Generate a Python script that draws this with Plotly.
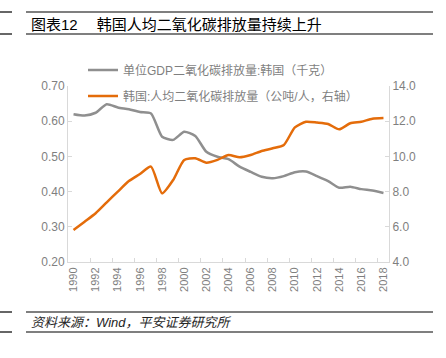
import plotly.graph_objects as go

years = [str(y) for y in range(1990, 2019)]
co2_per_gdp = [0.620, 0.616, 0.624, 0.648, 0.639, 0.634, 0.626, 0.622, 0.556, 0.547,
               0.570, 0.558, 0.513, 0.499, 0.492, 0.471, 0.456, 0.442, 0.438, 0.444,
               0.455, 0.457, 0.444, 0.430, 0.411, 0.414, 0.407, 0.403, 0.396]
co2_per_capita = [5.82, 6.29, 6.77, 7.39, 8.00, 8.60, 9.00, 9.42, 7.90, 8.66,
                  9.80, 9.89, 9.64, 9.80, 10.08, 9.95, 10.08, 10.31, 10.46, 10.65,
                  11.65, 11.97, 11.92, 11.84, 11.54, 11.88, 11.97, 12.14, 12.18]
name_gdp = "单位GDP二氧化碳排放量:韩国（千克）"
name_cap = "韩国:人均二氧化碳排放量（公吨/人，右轴）"
title_text = "图表12　 韩国人均二氧化碳排放量持续上升"
source_text = "资料来源：Wind，平安证券研究所"

W, H = 446, 358
L, R, T, B = 68, 389, 86, 262
FONT = "Liberation Sans, Noto Sans CJK SC, sans-serif"


def px_x(px):
    return (px - L) / (R - L)


def px_y(py):
    return (B - py) / (B - T)


fig = go.Figure()
fig.add_trace(go.Scatter(x=years, y=co2_per_gdp, name=name_gdp, mode="lines",
                         line=dict(color="#8f8f8f", width=2.5, shape="spline", smoothing=0.6),
                         legend="legend"))
fig.add_trace(go.Scatter(x=years, y=co2_per_capita, name=name_cap, mode="lines",
                         line=dict(color="#e46c0a", width=2.5, shape="spline", smoothing=0.6),
                         yaxis="y2", legend="legend2"))

axis_common = dict(showgrid=False, zeroline=False, showline=True, linecolor="#d9d9d9",
                   linewidth=1, ticks="inside", ticklen=4, tickcolor="#d9d9d9",
                   tickfont=dict(family=FONT, size=12, color="#7f7f7f"))

fig.update_layout(
    width=W, height=H,
    margin=dict(l=L, r=W - R, t=T, b=H - B, pad=0, autoexpand=False),
    paper_bgcolor="white", plot_bgcolor="white",
    font=dict(family=FONT),
    xaxis=dict(type="category", range=[-0.5, 28.5], dtick=2, tickangle=-90,
               tickson="boundaries", automargin=False,
               **{**axis_common, "tickfont": dict(family=FONT, size=11, color="#7f7f7f")}),
    yaxis=dict(range=[0.2, 0.7], dtick=0.1, tickformat=".2f", automargin=False, **axis_common),
    yaxis2=dict(range=[4, 14], dtick=2, tickformat=".1f", overlaying="y", side="right",
                automargin=False, **axis_common),
    legend=dict(x=px_x(83), y=px_y(70), xanchor="left", yanchor="middle",
                bgcolor="rgba(0,0,0,0)", font=dict(family=FONT, size=12, color="#7f7f7f")),
    legend2=dict(x=px_x(83), y=px_y(96), xanchor="left", yanchor="middle",
                 bgcolor="rgba(0,0,0,0)", font=dict(family=FONT, size=12, color="#7f7f7f")),
    showlegend=True,
)

shapes = []
for (x0, x1, y) in [(0, 12, 12), (26, 433, 12), (0, 12, 34), (26, 433, 34),
                    (0, 12, 312), (26, 433, 312), (0, 12, 332), (26, 433, 332)]:
    shapes.append(dict(type="line", xref="paper", yref="paper",
                       x0=px_x(x0), x1=px_x(x1), y0=px_y(y), y1=px_y(y),
                       line=dict(color="black", width=1.2)))
fig.update_layout(shapes=shapes)

fig.add_annotation(text=title_text, xref="paper", yref="paper", x=px_x(29), y=px_y(24),
                   xanchor="left", yanchor="middle", showarrow=False,
                   font=dict(family=FONT, size=15, color="black"))
fig.add_annotation(text="<i>" + source_text + "</i>", xref="paper", yref="paper",
                   x=px_x(29), y=px_y(322), xanchor="left", yanchor="middle", showarrow=False,
                   font=dict(family=FONT, size=13, color="#262626"))

fig.write_html("out.html", config={"displayModeBar": False},
               post_script="document.body.style.margin='0';")
